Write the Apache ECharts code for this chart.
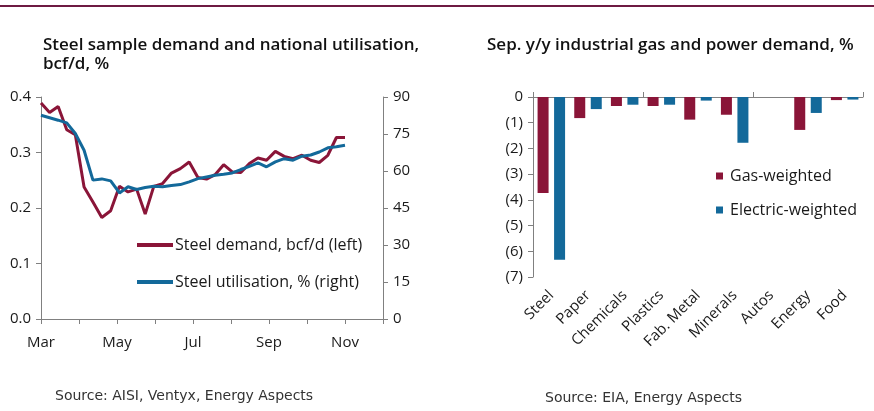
<!DOCTYPE html>
<html>
<head>
<meta charset="utf-8">
<style>
  body,
  html {
    overflow: hidden;
    width: 100%;
    height: 100%;
    margin: 0;
    padding: 0;
    background: #fff;
  }
  .chart-wrapper {
    position: relative;
    width: 874px;
    height: 411px;
  }
</style>
</head>
<body>
<div id="chart-wrapper" class="chart-wrapper"></div>

<script src="https://cdn.jsdelivr.net/npm/echarts@6/dist/echarts.min.js"></script>

<script>
  // left panel: weekly steel sample demand (bcf/d) and national utilisation (%)
  const weekStart = "2020-03-01";
  const steelDemand = [
    0.389, 0.372, 0.383, 0.341, 0.332, 0.238, 0.211, 0.183, 0.195, 0.239,
    0.229, 0.234, 0.189, 0.239, 0.244, 0.263, 0.271, 0.283, 0.255, 0.252,
    0.26, 0.278, 0.265, 0.264, 0.28, 0.29, 0.286, 0.302, 0.293, 0.289,
    0.295, 0.286, 0.282, 0.295, 0.327, 0.327,
  ];
  const steelUtil = [
    82.6, 81.6, 80.6, 79.5, 75.2, 68.4, 56.3, 56.8, 56.0, 51.1,
    53.6, 52.5, 53.3, 53.8, 53.6, 54.1, 54.5, 55.6, 56.9, 57.6,
    58.3, 58.7, 59.2, 60.6, 61.9, 63.3, 61.7, 63.7, 65.0, 64.4,
    66.0, 66.5, 67.7, 69.4, 69.8, 70.4,
  ];
  const monthLabels = ["Mar", "Apr", "May", "Jun", "Jul", "Aug", "Sep", "Oct", "Nov", "Dec"];

  // right panel: Sep y/y industrial demand change, %
  const sectors = ["Steel", "Paper", "Chemicals", "Plastics", "Fab. Metal", "Minerals", "Autos", "Energy", "Food"];
  const gasWeighted = [-3.73, -0.82, -0.35, -0.35, -0.88, -0.69, 0, -1.28, -0.12];
  const electricWeighted = [-6.33, -0.47, -0.3, -0.3, -0.14, -1.78, 0, -0.62, -0.1];

  const MAROON = "#8a1538";
  const BLUE = "#13699a";
  const AXIS = "#808080";
  const TXT = "#1a1a1a";
  const FONT = "Open Sans";

  // convert week dates to months since 1 Mar
  const monthPos = (d) => {
    const days = new Date(d.getFullYear(), d.getMonth() + 1, 0).getDate();
    return d.getMonth() - 2 + (d.getDate() - 1) / days;
  };
  const weekX = steelDemand.map((v, i) => {
    const d = new Date(weekStart + "T00:00:00");
    d.setDate(d.getDate() + i * 7);
    return monthPos(d);
  });

  const chart = echarts.init(document.getElementById("chart-wrapper"));

  const axisLabel = { color: TXT, fontSize: 15, fontFamily: FONT };
  const axisLine = { show: true, lineStyle: { color: AXIS, width: 1 } };
  const titleStyle = { fontSize: 17, fontWeight: 600, color: "#111", lineHeight: 19, fontFamily: FONT };

  const option = {
    animation: false,
    backgroundColor: "#fff",
    textStyle: { fontFamily: FONT },
    title: [
      {
        text: "Steel sample demand and national utilisation,\nbcf/d, %",
        left: 38,
        top: 31,
        textStyle: titleStyle,
      },
      {
        text: "Sep. y/y industrial gas and power demand, %",
        left: 482,
        top: 31,
        textStyle: titleStyle,
      },
    ],
    graphic: [
      { type: "rect", shape: { x: 0, y: 5, width: 874, height: 2 }, style: { fill: "#6e1a42" } },
      {
        type: "text",
        left: 55,
        top: 389,
        style: { text: "Source: AISI, Ventyx, Energy Aspects", fill: "#333", font: "14px 'DejaVu Sans'" },
      },
      {
        type: "text",
        left: 545,
        top: 391,
        style: { text: "Source: EIA, Energy Aspects", fill: "#333", font: "14px 'DejaVu Sans'" },
      },
    ],
    legend: [
      {
        data: ["Steel demand, bcf/d (left)", "Steel utilisation, % (right)"],
        orient: "vertical",
        left: 137,
        top: 237,
        padding: 0,
        itemWidth: 36,
        itemHeight: 4,
        itemGap: 21,
        icon: "rect",
        textStyle: { color: TXT, fontSize: 16, fontFamily: FONT, padding: [0, 0, 0, -3] },
      },
      {
        data: ["Gas-weighted", "Electric-weighted"],
        orient: "vertical",
        left: 716,
        top: 168,
        padding: 0,
        itemWidth: 7,
        itemHeight: 7,
        itemGap: 18,
        icon: "rect",
        textStyle: { color: TXT, fontSize: 16, fontFamily: FONT, padding: [0, 0, 0, 2] },
      },
    ],
    grid: [
      { left: 41, right: 491, top: 97, bottom: 92 },
      { left: 533, right: 11, top: 97, bottom: 134 },
    ],
    xAxis: [
      {
        gridIndex: 0,
        type: "value",
        min: 0,
        max: 9,
        interval: 1,
        axisLine: { ...axisLine, onZero: false },
        axisTick: { show: true, length: 5, lineStyle: { color: AXIS } },
        splitLine: { show: false },
        axisLabel: {
          ...axisLabel,
          margin: 16,
          formatter: (v) => (v % 2 === 0 ? monthLabels[v] : ""),
        },
      },
      {
        gridIndex: 1,
        type: "category",
        data: sectors,
        position: "top",
        axisLine: { ...axisLine, onZero: false },
        axisTick: { show: true, length: 5, lineStyle: { color: AXIS } },
        axisLabel: { show: false },
      },
      {
        gridIndex: 1,
        type: "category",
        data: sectors,
        position: "bottom",
        axisLine: { show: false },
        axisTick: { show: false },
        axisLabel: { ...axisLabel, rotate: 45, margin: 16, interval: 0 },
      },
    ],
    yAxis: [
      {
        gridIndex: 0,
        type: "value",
        min: 0,
        max: 0.4,
        interval: 0.1,
        position: "left",
        axisLine: axisLine,
        axisTick: { show: true, length: 5, lineStyle: { color: AXIS } },
        splitLine: { show: false },
        axisLabel: { ...axisLabel, margin: 10, formatter: (v) => v.toFixed(1) },
      },
      {
        gridIndex: 0,
        type: "value",
        min: 0,
        max: 90,
        interval: 15,
        position: "right",
        axisLine: axisLine,
        axisTick: { show: true, length: 5, lineStyle: { color: AXIS } },
        splitLine: { show: false },
        axisLabel: { ...axisLabel, margin: 10 },
      },
      {
        gridIndex: 1,
        type: "value",
        min: -7,
        max: 0,
        interval: 1,
        axisLine: axisLine,
        axisTick: { show: true, length: 5, lineStyle: { color: AXIS } },
        splitLine: { show: false },
        axisLabel: {
          ...axisLabel,
          margin: 10,
          formatter: (v) => (v === 0 ? "0" : "(" + -v + ")"),
        },
      },
    ],
    series: [
      {
        name: "Steel demand, bcf/d (left)",
        type: "line",
        xAxisIndex: 0,
        yAxisIndex: 0,
        showSymbol: false,
        data: steelDemand.map((v, i) => [weekX[i], v]),
        lineStyle: { color: MAROON, width: 3 },
        itemStyle: { color: MAROON },
        z: 2,
      },
      {
        name: "Steel utilisation, % (right)",
        type: "line",
        xAxisIndex: 0,
        yAxisIndex: 1,
        showSymbol: false,
        data: steelUtil.map((v, i) => [weekX[i], v]),
        lineStyle: { color: BLUE, width: 3 },
        itemStyle: { color: BLUE },
        z: 3,
      },
      {
        name: "Gas-weighted",
        type: "bar",
        xAxisIndex: 2,
        yAxisIndex: 2,
        data: gasWeighted,
        barWidth: 11,
        barGap: "50%",
        itemStyle: { color: MAROON },
      },
      {
        name: "Electric-weighted",
        type: "bar",
        xAxisIndex: 2,
        yAxisIndex: 2,
        data: electricWeighted,
        barWidth: 11,
        barGap: "50%",
        itemStyle: { color: BLUE },
      },
    ],
  };

  chart.setOption(option);
</script>
</body>
</html>
